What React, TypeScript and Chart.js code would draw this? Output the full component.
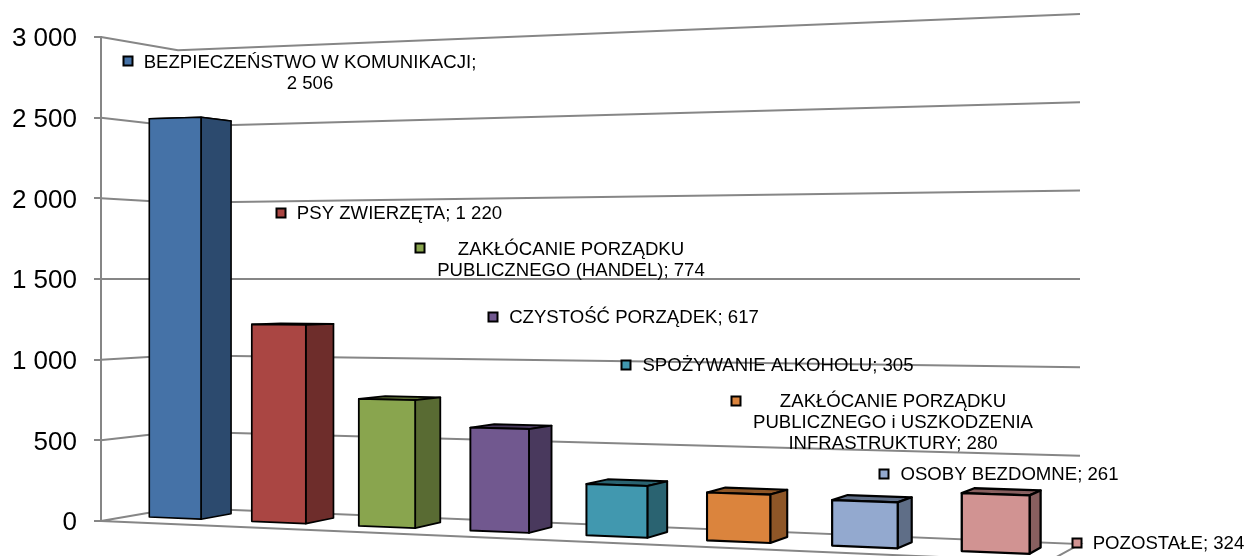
import React, { useEffect, useRef } from "react";
import { Chart, registerables } from "chart.js";

Chart.register(...registerables);

const categories = [
  "BEZPIECZEŃSTWO W KOMUNIKACJI",
  "PSY ZWIERZĘTA",
  "ZAKŁÓCANIE PORZĄDKU PUBLICZNEGO (HANDEL)",
  "CZYSTOŚĆ PORZĄDEK",
  "SPOŻYWANIE ALKOHOLU",
  "ZAKŁÓCANIE PORZĄDKU PUBLICZNEGO i USZKODZENIA INFRASTRUKTURY",
  "OSOBY BEZDOMNE",
  "POZOSTAŁE",
];
const values = [2506, 1220, 774, 617, 305, 280, 261, 324];
const frontColors = ["#4572A7", "#AA4643", "#89A54E", "#71588F", "#4198AF", "#DB843D", "#93A9CF", "#D19392"];
const sideColors = ["#2C4A6E", "#6E2D2B", "#596B33", "#49395D", "#2A6371", "#8E5627", "#5F6E87", "#885F5F"];
const labelLines = [
  ["BEZPIECZEŃSTWO W KOMUNIKACJI;", "2 506"],
  ["PSY ZWIERZĘTA; 1 220"],
  ["ZAKŁÓCANIE PORZĄDKU", "PUBLICZNEGO (HANDEL); 774"],
  ["CZYSTOŚĆ PORZĄDEK; 617"],
  ["SPOŻYWANIE ALKOHOLU; 305"],
  ["ZAKŁÓCANIE PORZĄDKU", "PUBLICZNEGO i USZKODZENIA", "INFRASTRUKTURY; 280"],
  ["OSOBY BEZDOMNE; 261"],
  ["POZOSTAŁE; 324"],
];
// key x, key y, text centre x, first line y
const labelLayout = [
  [128, 61, 310, 63],
  [281, 213, 399.5, 214],
  [420, 248, 571, 250],
  [493, 317, 634, 318],
  [626, 365, 778, 366],
  [736, 401, 893, 402],
  [884, 474, 1009.5, 475],
  [1077, 543, 1168.5, 544],
];

const FONT = '"Liberation Sans", Arial, sans-serif';
const GRID = "#868686";
const DEPTH_V = { x: 1508, y: 281 }; // vanishing point of depth lines
const WIDTH_V = { x: -5510, y: 280 }; // vanishing point of width lines
const AXIS_X = 101;
const WALL_T = 0.0547;
const WALL_RIGHT = 1080;
const FLOOR_RIGHT = 1048;
const BAR_FRONT_T = 0.021;
const BAR_DEPTH_T = 0.023;

type P = { x: number; y: number };

const alongWidth = (x0: number, y0: number, x: number): P => ({
  x,
  y: WIDTH_V.y + ((y0 - WIDTH_V.y) * (x - WIDTH_V.x)) / (x0 - WIDTH_V.x),
});
const intoDepth = (p: P, t: number): P => ({
  x: p.x + t * (DEPTH_V.x - p.x),
  y: p.y + t * (DEPTH_V.y - p.y),
});

function poly(ctx: CanvasRenderingContext2D, pts: P[], fill?: string) {
  ctx.beginPath();
  pts.forEach((p, i) => (i ? ctx.lineTo(p.x, p.y) : ctx.moveTo(p.x, p.y)));
  ctx.closePath();
  if (fill) {
    ctx.fillStyle = fill;
    ctx.fill();
  }
  ctx.stroke();
}

const perspectivePlugin = {
  id: "perspective",
  beforeDatasetsDraw(chart: any) {
    const { ctx } = chart;
    const y = chart.scales.y;
    ctx.save();
    ctx.strokeStyle = GRID;
    ctx.lineWidth = 2;
    for (const tick of y.ticks) {
      const py = y.getPixelForValue(tick.value);
      const corner = intoDepth({ x: AXIS_X, y: py }, WALL_T);
      const end = alongWidth(corner.x, corner.y, WALL_RIGHT);
      ctx.beginPath();
      ctx.moveTo(AXIS_X, py);
      ctx.lineTo(corner.x, corner.y);
      ctx.lineTo(end.x, end.y);
      if (tick.value === 0) {
        const front = alongWidth(AXIS_X, py, FLOOR_RIGHT);
        ctx.lineTo(front.x, front.y);
        ctx.lineTo(AXIS_X, py);
      }
      ctx.stroke();
    }
    ctx.restore();
  },
  beforeDatasetDraw() {
    return false;
  },
  afterDatasetsDraw(chart: any) {
    const { ctx } = chart;
    const xs = chart.scales.x;
    const first = xs.getPixelForValue(0);
    const step = xs.getPixelForValue(1) - first;
    const warp = (px: number) => {
      const u = (px - first) / step;
      return 175 + 101.4 * u + 2.26 * u * u;
    };
    const meta = chart.getDatasetMeta(0);
    ctx.save();
    ctx.strokeStyle = "#000";
    ctx.lineJoin = "round";
    meta.data.forEach((el: any, i: number) => {
      ctx.lineWidth = 1.6 + 0.1 * i;
      const l = warp(el.x - el.width / 2);
      const r = warp(el.x + el.width / 2);
      const point = (x: number, py: number) => {
        const e = alongWidth(AXIS_X, py, x);
        return { x, y: e.y + BAR_FRONT_T * (DEPTH_V.y - e.y) };
      };
      const tl = point(l, el.y);
      const tr = point(r, el.y);
      const bl = point(l, el.base);
      const br = point(r, el.base);
      const tlb = intoDepth(tl, BAR_DEPTH_T);
      const trb = intoDepth(tr, BAR_DEPTH_T);
      const brb = intoDepth(br, BAR_DEPTH_T);
      poly(ctx, [tl, tr, trb, tlb], sideColors[i]);
      poly(ctx, [tr, br, brb, trb], sideColors[i]);
      poly(ctx, [tl, tr, br, bl], frontColors[i]);
    });
    ctx.restore();

    ctx.save();
    ctx.font = `18.6px ${FONT}`;
    ctx.textAlign = "center";
    ctx.textBaseline = "middle";
    labelLines.forEach((lines, i) => {
      const [kx, ky, cx, ly] = labelLayout[i];
      ctx.fillStyle = frontColors[i];
      ctx.strokeStyle = "#000";
      ctx.lineWidth = 2;
      ctx.fillRect(kx - 4.5, ky - 4.5, 9, 9);
      ctx.strokeRect(kx - 4.5, ky - 4.5, 9, 9);
      ctx.fillStyle = "#000";
      lines.forEach((line, j) => ctx.fillText(line, cx, ly + j * 21));
    });
    ctx.restore();
  },
};

export default function App() {
  const ref = useRef<HTMLCanvasElement>(null);
  useEffect(() => {
    const chart = new Chart(ref.current as HTMLCanvasElement, {
      type: "bar",
      data: {
        labels: categories,
        datasets: [{ data: values, backgroundColor: frontColors, barPercentage: 0.51, categoryPercentage: 1 }],
      },
      options: {
        animation: false,
        responsive: false,
        layout: { padding: { top: 37, bottom: 35, right: 167, left: 0 } },
        plugins: { legend: { display: false }, tooltip: { enabled: false } },
        scales: {
          x: { display: false },
          y: {
            min: 0,
            max: 3000,
            ticks: {
              stepSize: 500,
              padding: 17,
              labelOffset: 2,
              color: "#000",
              font: { family: FONT, size: 26 },
              callback: (v: any) => String(v).replace(/\B(?=(\d{3})+$)/g, " "),
            },
            grid: { drawOnChartArea: false, color: GRID, lineWidth: 2, tickLength: 7 },
            border: { color: GRID, width: 2 },
            afterFit: (s: any) => {
              s.width = AXIS_X;
              s.paddingTop = 0;
              s.paddingBottom = 0;
            },
          },
        },
      },
      plugins: [perspectivePlugin],
    } as any);
    return () => chart.destroy();
  }, []);
  return (
    <canvas
      ref={ref}
      width={1247}
      height={556}
      style={{ position: "fixed", left: 0, top: 0, display: "block", background: "#fff" }}
    />
  );
}
